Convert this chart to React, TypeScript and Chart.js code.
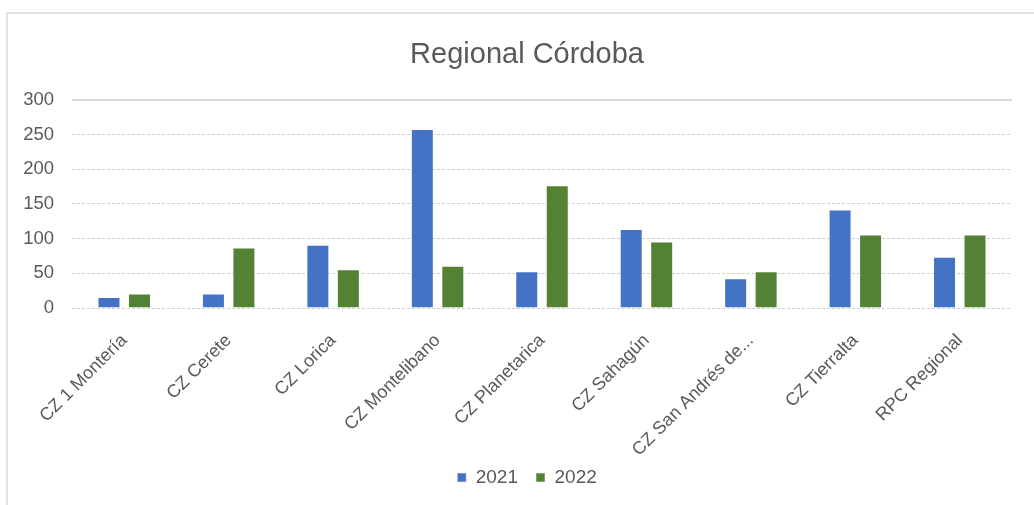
import React, { useEffect, useRef } from "react";
import { Chart, registerables } from "chart.js";

Chart.register(...registerables);

const chartTitle = "Regional Córdoba";
const categories = [
  "CZ 1 Montería",
  "CZ Cerete",
  "CZ Lorica",
  "CZ Montelibano",
  "CZ Planetarica",
  "CZ Sahagún",
  "CZ San Andrés de...",
  "CZ Tierralta",
  "RPC Regional",
];
const seriesNames = ["2021", "2022"];
const values2021 = [16, 21, 91, 258, 53, 114, 43, 142, 74];
const values2022 = [21, 87, 56, 61, 177, 96, 53, 106, 106];
const yMin = 0;
const yMax = 300;
const yStep = 50;

const FONT = "'Liberation Sans', Arial, sans-serif";
const TEXT = "#595959";

export default function App() {
  const ref = useRef<HTMLCanvasElement | null>(null);

  useEffect(() => {
    if (!ref.current) return;
    const chart = new Chart(ref.current, {
      type: "bar",
      data: {
        labels: categories,
        datasets: [
          {
            label: seriesNames[0],
            data: values2021,
            backgroundColor: "#4472C4",
            borderColor: "rgba(255,255,255,0.5)",
            borderWidth: 1,
          },
          {
            label: seriesNames[1],
            data: values2022,
            backgroundColor: "#548235",
            borderColor: "rgba(255,255,255,0.5)",
            borderWidth: 1,
          },
        ],
      },
      options: {
        responsive: false,
        animation: false,
        datasets: {
          bar: { categoryPercentage: 0.584, barPercentage: 0.754 },
        },
        layout: { padding: { left: 42, right: 22, top: 0, bottom: 8 } },
        plugins: {
          title: {
            display: true,
            text: chartTitle,
            color: TEXT,
            font: { family: FONT, size: 29, weight: "normal" },
            padding: { top: 38, bottom: 27 },
          },
          legend: {
            position: "bottom",
            labels: {
              color: TEXT,
              font: { family: FONT, size: 19 },
              boxWidth: 9,
              boxHeight: 9,
              padding: 18,
            },
          },
          tooltip: { enabled: false },
        },
        scales: {
          x: {
            afterFit: (scale: any) => {
              scale.height = 142;
              // long rotated labels may run past the fixed axis box; do not clip them
              scale._computeLabelArea = () => undefined;
            },
            grid: { display: false },
            border: { display: false },
            ticks: {
              color: TEXT,
              font: { family: FONT, size: 18 },
              maxRotation: 45,
              minRotation: 45,
              autoSkip: false,
              padding: 14,
            },
          },
          y: {
            min: yMin,
            max: yMax,
            afterFit: (scale: any) => {
              scale.width = 30;
              // let the tick labels extend into the left padding without clipping
              scale._computeLabelArea = () => undefined;
            },
            grid: {
              drawTicks: false,
              color: (ctx: any) => (ctx.tick && ctx.tick.value === yMax ? "#d9d9d9" : "#cfcfcf"),
              lineWidth: (ctx: any) => (ctx.tick && ctx.tick.value === yMax ? 2 : 1),
            },
            border: {
              display: false,
              dash: (ctx: any) => (ctx.tick && ctx.tick.value === yMax ? [] : [3, 2]),
            },
            ticks: {
              stepSize: yStep,
              color: TEXT,
              font: { family: FONT, size: 18.5 },
              padding: 18,
            },
          },
        },
      },
    });
    return () => chart.destroy();
  }, []);

  return (
    <div
      style={{
        position: "fixed",
        left: 0,
        top: 0,
        width: 1034,
        height: 505,
        background: "#ffffff",
        overflow: "hidden",
      }}
    >
      <div
        style={{
          position: "absolute",
          left: 6,
          top: 12,
          width: 1100,
          height: 600,
          border: "2px solid #e3e3e3",
          boxSizing: "border-box",
        }}
      />
      <canvas
        ref={ref}
        width={1034}
        height={505}
        style={{ position: "absolute", left: 0, top: 0, width: 1034, height: 505 }}
      />
    </div>
  );
}
